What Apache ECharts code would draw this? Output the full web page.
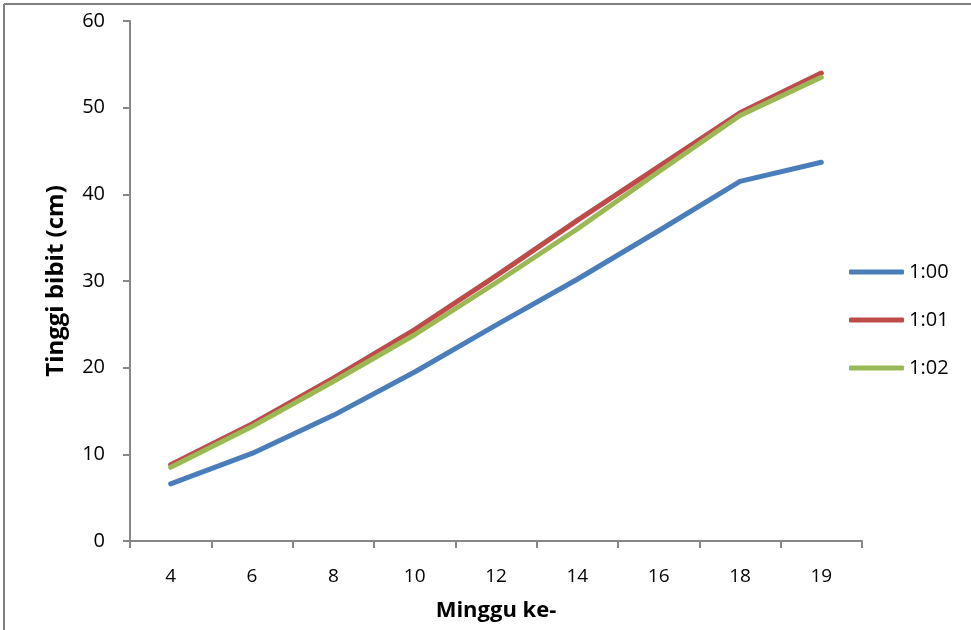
<!DOCTYPE html>
<html>
<head>
<meta charset="utf-8">
<script src="https://cdn.jsdelivr.net/npm/echarts@6/dist/echarts.min.js"></script>
<style>
html,body{margin:0;padding:0;background:#fff;}
#c{width:971px;height:630px;}
</style>
</head>
<body>
<div id="c"></div>
<script>
var categories = ['4', '6', '8', '10', '12', '14', '16', '18', '19'];
var seriesNames = ['1:00', '1:01', '1:02'];
var s100 = [6.6, 10.1, 14.5, 19.5, 24.9, 30.2, 35.8, 41.5, 43.7];
var s101 = [8.8, 13.5, 18.8, 24.4, 30.6, 37.0, 43.2, 49.4, 54.0];
var s102 = [8.5, 13.2, 18.4, 23.8, 29.8, 36.0, 42.6, 49.1, 53.5];
var yTicks = [0, 10, 20, 30, 40, 50, 60];

var FONT = '"Open Sans", Lato, "Noto Sans", sans-serif';
var colors = ['#4A7EBB', '#BE4B48', '#98B954'];
var axisGray = '#878787';

function mkSeries(name, data, color, z) {
  return {
    name: name, type: 'line', data: data, symbol: 'none', z: z,
    lineStyle: { color: color, width: 5, cap: 'round', join: 'round' },
    itemStyle: { color: color },
    emphasis: { disabled: true }
  };
}

var chart = echarts.init(document.getElementById('c'), null, { renderer: 'canvas' });
chart.setOption({
  animation: false,
  backgroundColor: '#fff',
  textStyle: { fontFamily: FONT },
  grid: { left: 130, right: 109, top: 21, bottom: 89, containLabel: false },
  legend: {
    orient: 'vertical',
    left: 849, top: 262,
    padding: 0,
    itemWidth: 55, itemHeight: 5, itemGap: 28,
    icon: 'roundRect',
    data: seriesNames,
    textStyle: { fontFamily: FONT, fontSize: 20, color: '#000', lineHeight: 20 },
    selectedMode: false
  },
  xAxis: {
    type: 'category',
    data: categories,
    boundaryGap: true,
    name: 'Minggu ke-',
    nameLocation: 'middle',
    nameGap: 59,
    nameTextStyle: { fontFamily: FONT, fontSize: 22, fontWeight: 'bold', color: '#000' },
    axisLine: { lineStyle: { color: axisGray, width: 2 } },
    axisTick: { show: true, interval: 0, length: 7, lineStyle: { color: axisGray, width: 2 } },
    axisLabel: { interval: 0, margin: 26, fontFamily: FONT, fontSize: 19, color: '#000' },
    splitLine: { show: false }
  },
  yAxis: {
    type: 'value',
    min: yTicks[0], max: yTicks[yTicks.length - 1], interval: yTicks[1] - yTicks[0],
    name: 'Tinggi bibit (cm)',
    nameLocation: 'middle',
    nameGap: 62,
    nameTextStyle: { fontFamily: FONT, fontSize: 24, fontWeight: 'bold', color: '#000' },
    axisLine: { show: true, lineStyle: { color: axisGray, width: 2 } },
    axisTick: { show: true, length: 7, lineStyle: { color: axisGray, width: 2 } },
    axisLabel: { margin: 25, fontFamily: FONT, fontSize: 20, color: '#000' },
    splitLine: { show: false }
  },
  graphic: [
    { type: 'line', shape: { x1: 4, y1: 4, x2: 971, y2: 4 }, style: { stroke: '#7f7f7f', lineWidth: 2 } },
    { type: 'line', shape: { x1: 4, y1: 4, x2: 4, y2: 630 }, style: { stroke: '#7f7f7f', lineWidth: 2 } }
  ],
  series: [
    mkSeries(seriesNames[0], s100, colors[0], 3),
    mkSeries(seriesNames[1], s101, colors[1], 2),
    mkSeries(seriesNames[2], s102, colors[2], 4)
  ]
});
</script>
</body>
</html>
